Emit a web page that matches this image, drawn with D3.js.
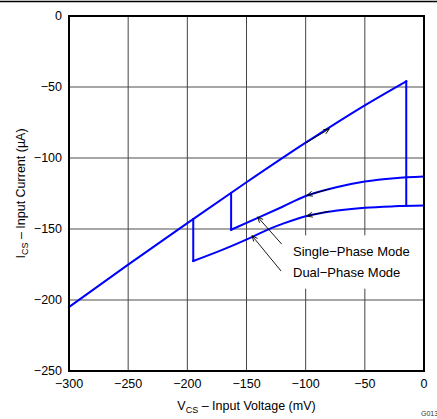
<!DOCTYPE html>
<html>
<head>
<meta charset="utf-8">
<script src="https://cdn.jsdelivr.net/npm/d3@7"></script>
<style>
  body { margin: 0; background: #fff; }
  text { font-family: "Liberation Sans", Arial, sans-serif; }
</style>
</head>
<body>
<svg id="chart" width="437" height="419"></svg>
<script>
// sweep up (single + dual share it), then trip at -15 mV
var upperV = [-300, -250, -200, -150, -100, -50, -15];
var upperI = [-205, -175.1, -145.9, -117.1, -89.2, -62.9, -46];
var tripV = -15, tripI = -133.6;

// single-phase return curve (first point is the jump back up)
var singleV = [-163, -163, -140, -120, -100, -75, -50, -25, 0];
var singleI = [-124.6, -150.5, -142, -134.5, -126.8, -120.8, -116.6, -114.2, -113];

// dual-phase return curve
var dualV = [-195, -195, -170, -145, -128, -120, -100, -75, -50, -25, 0];
var dualI = [-143, -172.5, -164.5, -155.5, -149, -146.5, -141, -137.2, -135, -134, -133.5];

var xTicks = [-300, -250, -200, -150, -100, -50, 0];
var yTicks = [-250, -200, -150, -100, -50, 0];

// direction arrows and label leaders, [v0, i0, v1, i1]
var arrows = [
    [-100, -89.5, -80, -79.5],
    [-80, -121.8, -99, -126.3],
    [-80, -137.5, -99, -140.8],
    [-120.3, -160.6, -140.6, -141.5],
    [-120.8, -179.6, -145.3, -154.7]
];
var labels = ['Single\u2212Phase Mode', 'Dual\u2212Phase Mode'];

var svg = d3.select('#chart'),
    pL = 69, pT = 16, pR = 424, pB = 371;

var x = d3.scaleLinear().domain([-300, 0]).range([pL, pR]);
var y = d3.scaleLinear().domain([-250, 0]).range([pB, pT]);
var fmt = d3.format('d');

// page rule at top
svg.append('line')
    .attr('x1', 0).attr('x2', 437).attr('y1', 1.5).attr('y2', 1.5)
    .attr('stroke', '#000').attr('stroke-width', 1.5);

// grid
svg.append('g').selectAll('line').data(yTicks.slice(1, -1)).join('line')
    .attr('x1', pL).attr('x2', pR)
    .attr('y1', function(d) { return y(d); }).attr('y2', function(d) { return y(d); })
    .attr('stroke', '#888').attr('stroke-width', 1.5);
svg.append('g').selectAll('line').data(xTicks.slice(1, -1)).join('line')
    .attr('y1', pT).attr('y2', pB)
    .attr('x1', function(d) { return x(d); }).attr('x2', function(d) { return x(d); })
    .attr('stroke', '#444').attr('stroke-width', 1);

// white box behind the mode labels
svg.append('rect')
    .attr('x', x(-117)).attr('y', y(-154.5))
    .attr('width', x(0) - x(-117) - 1).attr('height', y(-192) - y(-154.5))
    .attr('fill', '#fff');

svg.append('defs').append('marker')
    .attr('id', 'head')
    .attr('viewBox', '0 0 10 10')
    .attr('refX', 9).attr('refY', 5)
    .attr('markerWidth', 7).attr('markerHeight', 7)
    .attr('markerUnits', 'userSpaceOnUse')
    .attr('orient', 'auto')
    .append('path')
    .attr('d', 'M1,1.5 L9,5 L1,8.5')
    .attr('fill', 'none').attr('stroke', '#000').attr('stroke-width', 1.2);

var smooth = d3.line()
    .x(function(d) { return x(d[0]); })
    .y(function(d) { return y(d[1]); })
    .curve(d3.curveMonotoneX);
var straight = d3.line()
    .x(function(d) { return x(d[0]); })
    .y(function(d) { return y(d[1]); });

function blue(pts, gen) {
    svg.append('path')
        .datum(pts)
        .attr('d', gen)
        .attr('fill', 'none')
        .attr('stroke', '#0000ff')
        .attr('stroke-width', 2)
        .attr('stroke-linejoin', 'miter')
        .attr('stroke-linecap', 'square');
}

var up = d3.zip(upperV, upperI);
blue(up, smooth);
blue([up[up.length - 1], [tripV, tripI]], straight);

[[singleV, singleI], [dualV, dualI]].forEach(function(s) {
    var pts = d3.zip(s[0], s[1]);
    blue(pts.slice(0, 2), straight);
    blue(pts.slice(1), smooth);
});

svg.append('g').selectAll('line').data(arrows).join('line')
    .attr('x1', function(d) { return x(d[0]); }).attr('y1', function(d) { return y(d[1]); })
    .attr('x2', function(d) { return x(d[2]); }).attr('y2', function(d) { return y(d[3]); })
    .attr('stroke', '#000').attr('stroke-width', 0.9)
    .attr('marker-end', 'url(#head)');

svg.append('g').selectAll('text').data(labels).join('text')
    .attr('x', x(-110.7))
    .attr('y', function(d, i) { return y(-169) + i * 21; })
    .attr('font-size', 13)
    .attr('fill', '#000')
    .text(function(d) { return d; });

// frame
svg.append('rect')
    .attr('x', pL).attr('y', pT)
    .attr('width', pR - pL).attr('height', pB - pT)
    .attr('fill', 'none').attr('stroke', '#000').attr('stroke-width', 2);

// tick labels
svg.append('g').selectAll('text').data(xTicks).join('text')
    .attr('x', function(d) { return x(d); })
    .attr('y', pB + 17)
    .attr('text-anchor', 'middle')
    .attr('font-size', 12.5)
    .text(function(d) { return fmt(d); });
svg.append('g').selectAll('text').data(yTicks).join('text')
    .attr('x', pL - 7)
    .attr('y', function(d) { return y(d); })
    .attr('dy', '0.35em')
    .attr('text-anchor', 'end')
    .attr('font-size', 12.5)
    .text(function(d) { return fmt(d); });

// axis titles
var xt = svg.append('text')
    .attr('x', (pL + pR) / 2).attr('y', 410)
    .attr('text-anchor', 'middle').attr('font-size', 12.5);
xt.append('tspan').text('V');
xt.append('tspan').attr('font-size', 9).attr('dy', 3).text('CS');
xt.append('tspan').attr('dy', -3).text(' \u2013 Input Voltage (mV)');

var yt = svg.append('text')
    .attr('transform', 'translate(25,' + (pT + pB) / 2 + ') rotate(-90)')
    .attr('text-anchor', 'middle').attr('font-size', 12.5);
yt.append('tspan').text('I');
yt.append('tspan').attr('font-size', 9).attr('dy', 3).text('CS');
yt.append('tspan').attr('dy', -3).text(' \u2013 Input Current (\u00b5A)');

svg.append('text')
    .attr('x', 421).attr('y', 416)
    .attr('font-size', 7).attr('fill', '#333')
    .text('G013');
</script>
</body>
</html>
